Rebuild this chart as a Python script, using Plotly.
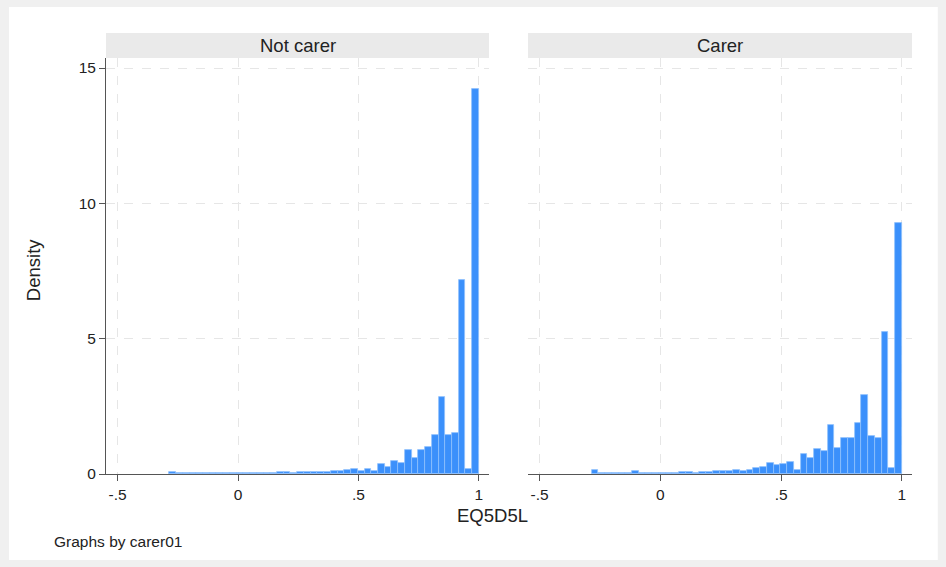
import numpy as np
import plotly.graph_objects as go

# histogram of EQ5D5L by carer01, 46 bins starting at -0.285
bin_start = -0.285
bin_width = 1.285 / 46

not_carer_density = [
    0.06, 0.02, 0.02, 0.02, 0.02, 0.02, 0.02, 0.02, 0.02, 0.02,
    0.02, 0.03, 0.03, 0.03, 0.04, 0.03, 0.07, 0.06, 0.05, 0.08,
    0.08, 0.08, 0.06, 0.08, 0.12, 0.10, 0.14, 0.18, 0.12, 0.18,
    0.10, 0.36, 0.26, 0.49, 0.39, 0.88, 0.58, 0.88, 0.99, 1.43,
    2.85, 1.43, 1.53, 7.18, 0.18, 14.22,
]

carer_density = [
    0.13, 0.02, 0.02, 0.02, 0.05, 0.02, 0.12, 0.02, 0.02, 0.05,
    0.02, 0.05, 0.03, 0.08, 0.08, 0.05, 0.08, 0.08, 0.10, 0.10,
    0.10, 0.16, 0.12, 0.16, 0.23, 0.27, 0.42, 0.34, 0.37, 0.46,
    0.16, 0.75, 0.60, 0.94, 0.86, 1.82, 0.97, 1.33, 1.33, 1.88,
    2.93, 1.40, 1.33, 5.25, 0.22, 9.28,
]

panel_titles = ['Not carer', 'Carer']
x_ticks = [-0.5, 0, 0.5, 1]
x_tick_labels = ['-.5', '0', '.5', '1']
y_ticks = [0, 5, 10, 15]

centers = bin_start + bin_width * (np.arange(len(carer_density)) + 0.5)

bar_color = '#3b90fb'
grid_color = '#e6e6e6'
axis_color = '#555555'
font_family = 'Liberation Sans, Arial, sans-serif'

fig = go.Figure()

for i, dens in enumerate([not_carer_density, carer_density]):
    fig.add_trace(go.Bar(
        x=centers,
        y=dens,
        width=bin_width,
        marker_color=bar_color,
        marker_line=dict(color='#8fc0fb', width=0.8),
        xaxis='x' if i == 0 else 'x2',
        yaxis='y' if i == 0 else 'y2',
        showlegend=False,
        hoverinfo='skip',
    ))

xaxis_common = dict(
    range=[-0.548, 1.042],
    tickvals=x_ticks,
    ticktext=x_tick_labels,
    ticks='outside',
    ticklen=6,
    tickcolor=axis_color,
    showline=True,
    linecolor=axis_color,
    linewidth=1,
    showgrid=True,
    gridcolor=grid_color,
    griddash='dash',
    zeroline=False,
    tickfont=dict(size=15.5, color='#222222'),
)

yaxis_common = dict(
    range=[0, 15.37],
    tickvals=y_ticks,
    showgrid=True,
    gridcolor=grid_color,
    griddash='dash',
    zeroline=False,
    tickfont=dict(size=15.5, color='#222222'),
)

fig.update_layout(
    width=946,
    height=567,
    margin=dict(l=106, r=34, t=58, b=93),
    paper_bgcolor='#f0f0f0',
    plot_bgcolor='white',
    font=dict(family=font_family, color='#222222'),
    bargap=0,
    xaxis=dict(domain=[0, 0.4752], anchor='y', **xaxis_common),
    xaxis2=dict(domain=[0.5236, 1], anchor='y2', **xaxis_common),
    yaxis=dict(
        domain=[0, 1], anchor='x',
        showline=True, linecolor=axis_color, linewidth=1,
        ticks='outside', ticklen=6, tickcolor=axis_color,
        **yaxis_common
    ),
    yaxis2=dict(
        domain=[0, 1], anchor='x2',
        showline=False, showticklabels=False, ticks='',
        **yaxis_common
    ),
)

# white graph region inside the gray frame
fig.add_shape(type='rect', xref='paper', yref='paper',
              x0=-0.1203, x1=1.032, y0=-0.2067, y1=1.1226,
              fillcolor='white', line_width=0, layer='below')

# panel header strips
strip_domains = [[0, 0.4752], [0.5236, 1]]
for title, dom in zip(panel_titles, strip_domains):
    fig.add_shape(type='rect', xref='paper', yref='paper',
                  x0=dom[0], x1=dom[1], y0=1.0, y1=1.0601,
                  fillcolor='#eaeaea', line_width=0)
    fig.add_annotation(x=(dom[0] + dom[1]) / 2, y=1.030, xref='paper', yref='paper',
                       text=title, showarrow=False,
                       font=dict(size=18.5, color='#222222'),
                       xanchor='center', yanchor='middle')

fig.add_annotation(x=0.479, y=-0.0986, xref='paper', yref='paper',
                   text='EQ5D5L', showarrow=False,
                   font=dict(size=18.5, color='#222222'),
                   xanchor='center', yanchor='middle')

fig.add_annotation(x=-0.0906, y=0.49, xref='paper', yref='paper',
                   text='Density', showarrow=False, textangle=-90,
                   font=dict(size=18.5, color='#222222'),
                   xanchor='center', yanchor='middle')

fig.add_annotation(x=-0.067, y=-0.163, xref='paper', yref='paper',
                   text='Graphs by carer01', showarrow=False,
                   font=dict(size=15.5, color='#222222'),
                   xanchor='left', yanchor='middle')

# drop the default page margin so the figure sits at the top-left corner
fig.write_html('out.html',
               config={'displayModeBar': False},
               post_script="document.body.style.margin='0';"
                           "document.body.style.background='#f0f0f0';")
